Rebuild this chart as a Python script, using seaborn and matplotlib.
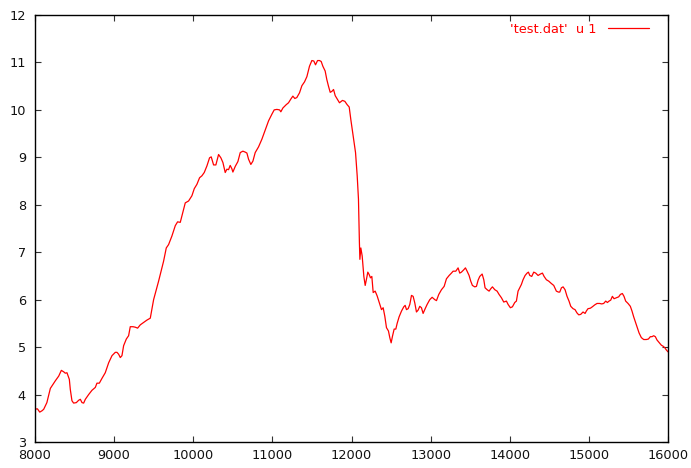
import matplotlib
matplotlib.use("Agg")
import matplotlib.pyplot as plt
import seaborn as sns
import pandas as pd

# Column 1 of test.dat, sampled along the record index
x_vals = [
    8000, 8030, 8060, 8090, 8110, 8150, 8194, 8257, 8300, 8333, 8362, 8383, 8404,
    8434, 8446, 8467, 8488, 8522, 8552, 8573, 8594, 8615, 8636, 8678, 8720, 8762,
    8783, 8813, 8846, 8888, 8931, 8973, 9015, 9036, 9057, 9078, 9099, 9120, 9154,
    9183, 9204, 9238, 9267, 9297, 9331, 9373, 9415, 9457, 9499, 9562, 9625, 9659,
    9688, 9730, 9773, 9802, 9836, 9869, 9899, 9941, 9983, 10013, 10046, 10080,
    10109, 10139, 10173, 10206, 10227, 10257, 10286, 10320, 10349, 10375, 10404,
    10425, 10446, 10467, 10488, 10501, 10531, 10564, 10594, 10627, 10657, 10678,
    10699, 10728, 10754, 10783, 10825, 10867, 10909, 10952, 10994, 11023, 11057,
    11091, 11107, 11133, 11175, 11204, 11234, 11259, 11284, 11309, 11343, 11373,
    11406, 11436, 11469, 11499, 11524, 11545, 11571, 11596, 11617, 11638, 11667,
    11688, 11709, 11731, 11752, 11773, 11794, 11823, 11848, 11886, 11916, 11945,
    11971, 11992, 12021, 12051, 12072, 12088, 12100, 12106, 12118, 12135, 12156,
    12173, 12189, 12206, 12223, 12240, 12257, 12274, 12299, 12324, 12358, 12379,
    12400, 12421, 12442, 12467, 12484, 12501, 12518, 12539, 12560, 12577, 12602,
    12632, 12661, 12678, 12695, 12716, 12737, 12758, 12779, 12800, 12821, 12842,
    12863, 12884, 12905, 12931, 12956, 12989, 13019, 13053, 13074, 13103, 13137,
    13171, 13200, 13234, 13263, 13284, 13318, 13347, 13368, 13389, 13419, 13440,
    13461, 13486, 13507, 13528, 13558, 13579, 13600, 13621, 13651, 13672, 13688,
    13714, 13739, 13760, 13781, 13811, 13840, 13865, 13895, 13924, 13958, 13979,
    14008, 14034, 14063, 14084, 14105, 14126, 14147, 14168, 14194, 14219, 14236,
    14253, 14278, 14303, 14328, 14358, 14387, 14413, 14434, 14463, 14493, 14526,
    14556, 14589, 14615, 14632, 14653, 14674, 14699, 14724, 14749, 14771, 14800,
    14825, 14850, 14872, 14897, 14926, 14952, 14968, 14989, 15019, 15044, 15074,
    15103, 15137, 15162, 15187, 15213, 15234, 15255, 15276, 15297, 15318, 15347,
    15377, 15398, 15423, 15444, 15465, 15495, 15524, 15545, 15566, 15592, 15613,
    15634, 15663, 15693, 15726, 15752, 15777, 15798, 15819, 15840, 15861, 15886,
    15916, 15937, 15958, 15979, 16000,
]
y_vals = [
    3.69, 3.70, 3.63, 3.66, 3.69, 3.83, 4.13, 4.29, 4.39, 4.51, 4.48, 4.45, 4.46,
    4.32, 4.11, 3.87, 3.82, 3.83, 3.88, 3.90, 3.83, 3.82, 3.90, 4.00, 4.09, 4.15,
    4.24, 4.24, 4.34, 4.46, 4.67, 4.82, 4.89, 4.89, 4.85, 4.78, 4.82, 5.03, 5.17,
    5.24, 5.43, 5.43, 5.42, 5.40, 5.47, 5.52, 5.57, 5.61, 6.00, 6.39, 6.81, 7.09,
    7.16, 7.34, 7.56, 7.64, 7.63, 7.84, 8.04, 8.08, 8.19, 8.34, 8.43, 8.57,
    8.61, 8.68, 8.82, 8.99, 9.01, 8.84, 8.84, 9.06, 8.99, 8.89, 8.68,
    8.75, 8.74, 8.83, 8.76, 8.69, 8.81, 8.91, 9.10, 9.13, 9.11, 9.09,
    8.96, 8.85, 8.92, 9.10, 9.22, 9.38, 9.57, 9.77, 9.91, 10.00, 10.01,
    10.00, 9.96, 10.04, 10.11, 10.15, 10.23, 10.29, 10.24, 10.26, 10.36, 10.51,
    10.59, 10.70, 10.92, 11.04, 11.03, 10.95, 11.04, 11.04, 11.02, 10.92, 10.82,
    10.64, 10.50, 10.37, 10.39, 10.43, 10.30, 10.22, 10.15, 10.20, 10.18, 10.11,
    10.06, 9.79, 9.45, 9.10, 8.61, 8.12, 7.20, 6.85, 7.09, 6.92, 6.49,
    6.30, 6.43, 6.58, 6.53, 6.46, 6.49, 6.15, 6.18, 6.08, 5.90, 5.79,
    5.83, 5.65, 5.41, 5.34, 5.20, 5.09, 5.23, 5.38, 5.38, 5.50, 5.64,
    5.76, 5.85, 5.88, 5.79, 5.81, 5.90, 6.09, 6.07, 5.93, 5.74, 5.78,
    5.86, 5.83, 5.71, 5.81, 5.90, 6.00, 6.05, 6.00, 5.98, 6.11, 6.21,
    6.28, 6.44, 6.51, 6.56, 6.60, 6.60, 6.67, 6.56, 6.58, 6.63, 6.67,
    6.60, 6.51, 6.39, 6.30, 6.27, 6.28, 6.41, 6.49, 6.54, 6.42, 6.25,
    6.21, 6.18, 6.23, 6.27, 6.21, 6.18, 6.11, 6.04, 5.95, 5.97, 5.90,
    5.83, 5.85, 5.94, 5.97, 6.18, 6.25, 6.32, 6.42, 6.51, 6.56, 6.58,
    6.51, 6.49, 6.58, 6.56, 6.51, 6.54, 6.56, 6.49, 6.42, 6.39, 6.34,
    6.30, 6.18, 6.16, 6.16, 6.25, 6.27, 6.21, 6.07, 5.97, 5.86, 5.81,
    5.79, 5.72, 5.68, 5.69, 5.74, 5.71, 5.76, 5.81, 5.82, 5.85, 5.89,
    5.92, 5.92, 5.91, 5.92, 5.97, 5.94, 5.97, 5.99, 6.07, 6.02, 6.04,
    6.06, 6.11, 6.13, 6.07, 5.97, 5.92, 5.86, 5.76, 5.64, 5.51, 5.41,
    5.30, 5.20, 5.16, 5.16, 5.17, 5.22, 5.22, 5.24, 5.22, 5.15, 5.10,
    5.04, 5.02, 4.99, 4.94, 4.90,
]
x_ticks = [8000, 9000, 10000, 11000, 12000, 13000, 14000, 15000, 16000]
y_ticks = [3, 4, 5, 6, 7, 8, 9, 10, 11, 12]
series_label = "'test.dat'  u 1"

sns.set_style("ticks")
plt.rcParams["font.family"] = ["DejaVu Sans"]

df = pd.DataFrame({"index": x_vals, "value": y_vals})

fig = plt.figure(figsize=(6.91, 4.68), dpi=100)
ax = fig.add_axes([35 / 691, 26 / 468, 633 / 691, 427 / 468])

sns.lineplot(data=df, x="index", y="value", ax=ax, color="#ff0000",
             linewidth=0.9, estimator=None, label=series_label)

ax.set_xlim(8000, 16000)
ax.set_ylim(3, 12)
ax.set_xticks(x_ticks)
ax.set_yticks(y_ticks)
ax.set_xlabel("")
ax.set_ylabel("")

for side in ["left", "right", "top", "bottom"]:
    ax.spines[side].set_visible(True)
    ax.spines[side].set_color("black")
    ax.spines[side].set_linewidth(1.0)

ax.tick_params(axis="both", which="major", direction="in", length=4.5,
               width=0.8, color="#333333", labelsize=9.3, labelcolor="#111111",
               top=True, right=True)
ax.tick_params(axis="y", pad=6.5)
ax.tick_params(axis="x", pad=5)

leg = ax.legend(loc="upper right", bbox_to_anchor=((649 - 35) / 633, (442 - 23) / 427),
                frameon=False, markerfirst=False, borderpad=0, borderaxespad=0,
                handlelength=3.2, handletextpad=0.85, fontsize=9.3)
for t in leg.get_texts():
    t.set_color("#ff0000")

fig.savefig("out.png", dpi=100)
